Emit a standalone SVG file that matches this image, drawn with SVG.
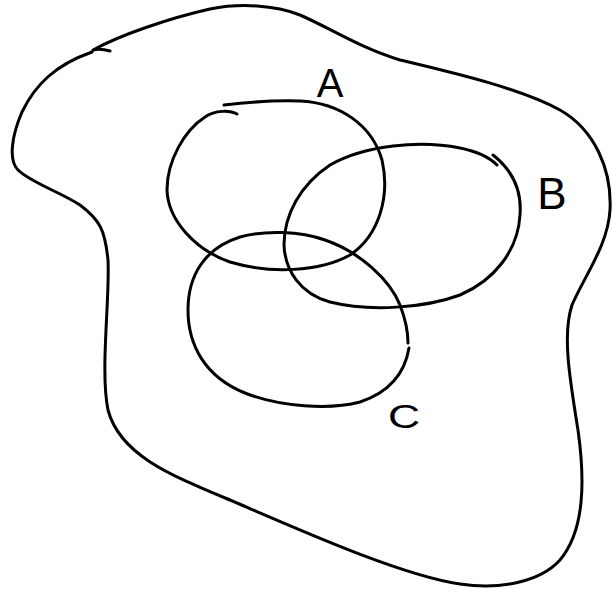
<svg xmlns="http://www.w3.org/2000/svg" width="612" height="590" viewBox="0 0 612 590">
<style>
.ln{fill:none;stroke:#000;stroke-width:3;stroke-linecap:round;stroke-linejoin:round}
.lb{font-family:"Liberation Sans","DejaVu Sans",sans-serif;fill:#000;text-anchor:middle}
</style>
<rect width="612" height="590" fill="#fff"/>
<g id="universe">
<path class="ln" d="M110,51 Q100,48 93,50 C120,35 170,18 210,9 C240,3 275,5 300,15 C330,28 360,48 400,60 C450,72 520,88 560,110 C595,130 612,170 610,210 C608,245 585,275 572,305 C562,335 570,380 578,430 C585,480 585,530 560,560 C540,582 500,590 460,584 C400,575 300,530 230,500 C170,475 120,455 108,410 C100,370 110,300 108,260 C105,230 100,220 80,205 C60,192 30,182 18,170 C8,160 12,135 22,112 C35,85 55,65 92,52"/>
</g>
<g id="setA">
<path class="ln" d="M224,105 C250,102 275,100 300,101 C340,103 372,125 382,160 C390,195 380,235 350,255 C320,272 270,274 230,262 C195,250 168,220 167,190 C167,160 185,130 205,117 C215,110 230,110 237,114"/>
<text class="lb" x="330" y="97" font-size="40">A</text>
</g>
<g id="setB">
<path class="ln" d="M493,155 C512,170 522,190 520,215 C518,250 495,280 460,295 C425,308 370,312 330,302 C300,294 285,270 284,245 C284,215 300,185 330,165 C365,145 420,140 460,148 C480,152 490,158 497,165"/>
<text class="lb" x="552" y="209" font-size="44">B</text>
</g>
<g id="setC">
<path class="ln" d="M409,348 C405,372 390,392 360,402 C330,410 280,407 245,393 C205,377 188,345 188,310 C188,275 205,248 240,237 C265,230 300,231 325,240 C360,252 390,280 400,305 C405,318 408,330 408,343"/>
<text class="lb" x="0" y="0" font-size="33" transform="translate(404,428) scale(1.35,1)">C</text>
</g>
<g id="connectors"></g>
</svg>
